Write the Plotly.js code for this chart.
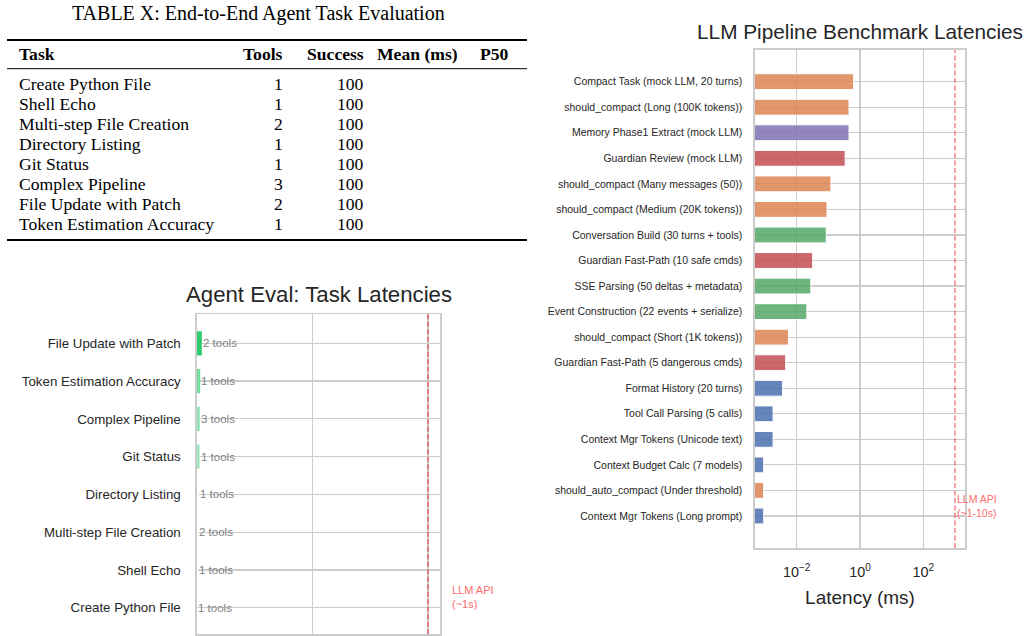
<!DOCTYPE html>
<html>
<head>
<meta charset="utf-8">
<script src="https://cdn.plot.ly/plotly-3.0.1.min.js"></script>
<style>
  html, body { margin: 0; padding: 0; background: #ffffff; }
  #chart { width: 1028px; height: 636px; }
</style>
</head>
<body>
<div id="chart"></div>
<script>
// ---- Table: end-to-end agent task evaluation ----
const tableTitle = 'TABLE X: End-to-End Agent Task Evaluation';
const tableHeaders = ['Task', 'Tools', 'Success', 'Mean (ms)', 'P50'];
const tableTasks = ['Create Python File', 'Shell Echo', 'Multi-step File Creation', 'Directory Listing',
                    'Git Status', 'Complex Pipeline', 'File Update with Patch', 'Token Estimation Accuracy'];
const tableTools = [1, 1, 2, 1, 1, 3, 2, 1];
const tableSuccess = [100, 100, 100, 100, 100, 100, 100, 100];

// ---- Agent eval latencies (bottom to top) ----
const evalTasks = ['Create Python File', 'Shell Echo', 'Multi-step File Creation', 'Directory Listing',
                   'Git Status', 'Complex Pipeline', 'Token Estimation Accuracy', 'File Update with Patch'];
const evalLatencyMs = [1, 5, 6, 7, 11, 12, 14, 21];
const evalTools = [1, 1, 2, 1, 1, 3, 1, 2];
const agentApiMs = 1000;

// ---- Pipeline benchmark latencies (bottom to top) ----
const benchNames = [
  'Context Mgr Tokens (Long prompt)',
  'should_auto_compact (Under threshold)',
  'Context Budget Calc (7 models)',
  'Context Mgr Tokens (Unicode text)',
  'Tool Call Parsing (5 calls)',
  'Format History (20 turns)',
  'Guardian Fast-Path (5 dangerous cmds)',
  'should_compact (Short (1K tokens))',
  'Event Construction (22 events + serialize)',
  'SSE Parsing (50 deltas + metadata)',
  'Guardian Fast-Path (10 safe cmds)',
  'Conversation Build (30 turns + tools)',
  'should_compact (Medium (20K tokens))',
  'should_compact (Many messages (50))',
  'Guardian Review (mock LLM)',
  'Memory Phase1 Extract (mock LLM)',
  'should_compact (Long (100K tokens))',
  'Compact Task (mock LLM, 20 turns)'
];
const benchLatencyMs = [0.00091, 0.00091, 0.00091, 0.0018, 0.0018, 0.0036, 0.0045, 0.0055,
                        0.021, 0.028, 0.032, 0.086, 0.091, 0.121, 0.34, 0.45, 0.45, 0.63];
const benchGroups = ['context', 'compact', 'context', 'context', 'context', 'context', 'guardian', 'compact',
                     'protocol', 'protocol', 'guardian', 'protocol', 'compact', 'compact', 'guardian',
                     'memory', 'compact', 'compact'];
const llmApiMs = 1000;
const latencyTickVals = [0.01, 1, 100];
const latencyTickText = ['10<sup>\u22122</sup>', '10<sup>0</sup>', '10<sup>2</sup>'];

// ---- styling ----
const W = 1028, H = 636;
const px = x => x / W;
const py = y => 1 - y / H;
const SANS = 'Liberation Sans, Arial, sans-serif';
const SERIF = 'Liberation Serif, Times New Roman, serif';
const TXT = '#262626';
const GRID = '#cccccc';
const groupColors = {
  compact: '#DD8452', memory: '#8172B3', guardian: '#C44E52', protocol: '#55A868', context: '#4C72B0'
};

// green shade: white up to the shading floor, full green at the slowest task
const shadeFloorMs = 7;
function greenShade(v) {
  const hi = Math.max(...evalLatencyMs);
  const t = Math.pow(Math.max(0, (v - shadeFloorMs) / (hi - shadeFloorMs)), 0.6);
  const base = [255, 255, 255], top = [46, 204, 113];
  const c = base.map((b, i) => Math.round(b + (top[i] - b) * t));
  return `rgb(${c[0]},${c[1]},${c[2]})`;
}

const traces = [
  {
    type: 'bar', orientation: 'h', xaxis: 'x', yaxis: 'y',
    y: evalTasks, x: evalLatencyMs, width: 0.64,
    marker: { color: evalLatencyMs.map(greenShade), line: { width: 0 } },
    hoverinfo: 'skip'
  },
  {
    type: 'bar', orientation: 'h', xaxis: 'x2', yaxis: 'y2',
    y: benchNames, x: benchLatencyMs, width: 0.62,
    marker: { color: benchGroups.map(g => groupColors[g]), opacity: 0.85,
              line: { color: '#ffffff', width: 1 } },
    hoverinfo: 'skip'
  }
];

const annotations = [];
const shapes = [];

// table title, header and rows
annotations.push({ xref: 'paper', yref: 'paper', x: px(258), y: py(14), text: tableTitle, showarrow: false,
  xanchor: 'center', yanchor: 'middle', font: { family: SERIF, size: 20, color: '#000' } });
const colX = [19, 283, 364, 377, 480];
const colAnchor = ['left', 'right', 'right', 'left', 'left'];
tableHeaders.forEach((h, i) => {
  annotations.push({ xref: 'paper', yref: 'paper', x: px(colX[i] + (colAnchor[i] === 'left' ? -2 : 2)), y: py(54),
    text: '<b>' + h + '</b>', showarrow: false, xanchor: colAnchor[i], yanchor: 'middle',
    font: { family: SERIF, size: 17.6, color: '#000' } });
});
tableTasks.forEach((t, r) => {
  const yy = py(84 + 20 * r);
  const cells = [t, String(tableTools[r]), String(tableSuccess[r])];
  cells.forEach((c, i) => {
    annotations.push({ xref: 'paper', yref: 'paper', x: px(colX[i] + (colAnchor[i] === 'left' ? -2 : 2)), y: yy,
      text: c, showarrow: false, xanchor: colAnchor[i], yanchor: 'middle',
      font: { family: SERIF, size: 17.6, color: '#000' } });
  });
});
[[40, 1.8], [68.7, 1], [240, 1.8]].forEach(([y, w]) => {
  shapes.push({ type: 'line', xref: 'paper', yref: 'paper', x0: px(7), x1: px(527), y0: py(y), y1: py(y),
    line: { color: '#000', width: w } });
});

// chart titles
annotations.push({ xref: 'paper', yref: 'paper', x: px(318.5), y: py(295), text: 'Agent Eval: Task Latencies',
  showarrow: false, xanchor: 'center', yanchor: 'middle', font: { family: SANS, size: 22.2, color: TXT } });
annotations.push({ xref: 'paper', yref: 'paper', x: px(860), y: py(32), text: 'LLM Pipeline Benchmark Latencies',
  showarrow: false, xanchor: 'center', yanchor: 'middle', font: { family: SANS, size: 20.8, color: TXT } });

// tool-count labels next to the agent bars
evalTasks.forEach((t, i) => {
  annotations.push({ xref: 'x', yref: 'y', x: evalLatencyMs[i], y: i, text: evalTools[i] + ' tools',
    showarrow: false, xanchor: 'left', yanchor: 'middle', xshift: -1,
    font: { family: SANS, size: 11.5, color: '#7f7f7f' } });
});

// LLM API reference lines
shapes.push({ type: 'line', xref: 'x', yref: 'y domain', x0: agentApiMs, x1: agentApiMs, y0: 0, y1: 1,
  line: { color: 'rgba(226,90,90,0.8)', width: 1.7, dash: '5px,2.5px' } });
annotations.push({ xref: 'paper', yref: 'y', x: px(450), y: 0.29, text: 'LLM API<br>(~1s)', showarrow: false,
  xanchor: 'left', yanchor: 'middle', align: 'left', font: { family: SANS, size: 11, color: '#ff6b6b' } });
shapes.push({ type: 'line', xref: 'x2', yref: 'y2 domain', x0: llmApiMs, x1: llmApiMs, y0: 0, y1: 1,
  line: { color: 'rgba(240,90,90,0.75)', width: 1.5, dash: '5px,2.5px' } });
annotations.push({ xref: 'x2', yref: 'y2', x: Math.log10(llmApiMs), y: 0.39, text: 'LLM API<br>(~1-10s)',
  showarrow: false, xanchor: 'left', yanchor: 'middle', align: 'left', xshift: 0,
  font: { family: SANS, size: 10.5, color: '#ff6b6b' } });

const layout = {
  width: W, height: H,
  margin: { l: 0, r: 0, t: 0, b: 0 },
  paper_bgcolor: '#ffffff', plot_bgcolor: '#ffffff',
  showlegend: false,
  font: { family: SANS, color: TXT },
  xaxis: {
    domain: [px(197), px(440)], anchor: 'y', range: [0, 1052],
    tickvals: [0, 500, 1000], showticklabels: false, ticks: '',
    showgrid: true, gridcolor: GRID, gridwidth: 1.2, zeroline: false,
    showline: true, mirror: true, linecolor: GRID, linewidth: 1.6
  },
  yaxis: {
    domain: [py(634.3), py(314.3)], anchor: 'x', type: 'category', range: [-0.704, 7.768],
    showgrid: true, gridcolor: GRID, gridwidth: 1.2, zeroline: false,
    showline: true, mirror: true, linecolor: GRID, linewidth: 1.6,
    ticks: '', ticklabelstandoff: 12, tickfont: { family: SANS, size: 13.3, color: TXT }
  },
  xaxis2: {
    domain: [px(755), px(965)], anchor: 'y2', type: 'log', range: [-3.316, 3.317],
    tickmode: 'array', tickvals: latencyTickVals, ticktext: latencyTickText,
    ticks: '', ticklabelstandoff: 10, tickfont: { family: SANS, size: 14.4, color: TXT },
    showgrid: true, gridcolor: GRID, gridwidth: 1.2, zeroline: false,
    showline: true, mirror: true, linecolor: GRID, linewidth: 1.6,
    title: { text: 'Latency (ms)', font: { family: SANS, size: 19, color: TXT }, standoff: 12 }
  },
  yaxis2: {
    domain: [py(548), py(50)], anchor: 'x2', type: 'category', range: [-1.253, 18.24],
    showgrid: true, gridcolor: GRID, gridwidth: 1.2, zeroline: false,
    showline: true, mirror: true, linecolor: GRID, linewidth: 1.6,
    ticks: '', ticklabelstandoff: 9, tickfont: { family: SANS, size: 10.5, color: TXT }
  },
  annotations: annotations,
  shapes: shapes
};

Plotly.newPlot('chart', traces, layout, { displayModeBar: false, staticPlot: true });
</script>
</body>
</html>
